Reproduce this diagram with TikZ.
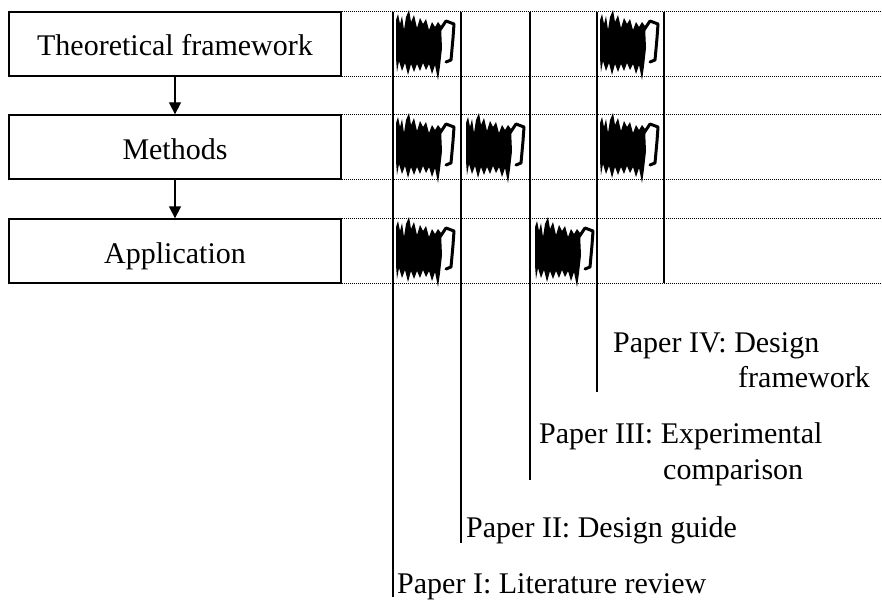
\documentclass[tikz,border=0pt]{standalone}
\usepackage{fontspec}
\setmainfont{Liberation Serif}
\usetikzlibrary{arrows.meta}
\tikzset{
  stagebox/.style={draw, line width=1.3pt, minimum width=332pt, minimum height=64pt,
    inner sep=0pt, text height=28.5pt, text depth=4.5pt,
    font=\fontsize{30}{36}\selectfont},
  dotline/.style={line width=0.9pt, dash pattern=on 1pt off 1pt},
  paperline/.style={line width=1.3pt},
  flowarrow/.style={line width=1.3pt, -{Triangle[length=12pt,width=12pt]}},
  papertext/.style={anchor=base west, inner sep=0pt, font=\fontsize{30}{36}\selectfont},
  scrib/.pic={
    \fill (3,12) -- (5,6) -- (7,16) -- (9,8) -- (11,22) -- (13,9) -- (16,2) -- (18,14)
      -- (21,7) -- (24,20) -- (27,10) -- (30,16) -- (33,11) -- (36,22) -- (39,14)
      -- (42,19) -- (45,14) -- (48,18)
      -- (49,40) -- (47,58)
      -- (45,72) -- (42,57) -- (39,66) -- (36,56) -- (33,62) -- (30,55) -- (27,63)
      -- (24,56) -- (21,64) -- (18,56) -- (15,67) -- (12,55) -- (9,63) -- (6,53)
      -- (4,64) -- (3,50) -- cycle;
    \draw[line width=3pt, line join=round, line cap=round]
      (47,22) -- (53,13) -- (61,16) -- (60,30) -- (58,52) -- (53,54);
  }
}
\begin{document}
\begin{tikzpicture}[x=1pt, y=-1pt]
  \useasboundingbox (0,0) rectangle (882,599);
  % stage boxes
  \node[stagebox] (b1) at (175,44) {Theoretical framework};
  \node[stagebox] (b2) at (175,147) {Methods};
  \node[stagebox] (b3) at (175,251) {Application};
  \draw[flowarrow] (b1) -- (b2);
  \draw[flowarrow] (b2) -- (b3);
  % right edge
  \coordinate (R) at (882,0);
  \foreach \b in {b1,b2,b3} {
    \draw[dotline] (\b.north east) -- (\b.north east -| R);
    \draw[dotline] (\b.south east) -- (\b.south east -| R);
  }
  % paper lines
  \coordinate (v1t) at (393,12); \coordinate (v1b) at (393,597);
  \coordinate (v2t) at (461,12); \coordinate (v2b) at (461,543);
  \coordinate (v3t) at (530,12); \coordinate (v3b) at (530,480);
  \coordinate (v4t) at (597,12); \coordinate (v4b) at (597,392);
  \coordinate (v5t) at (664,12); \coordinate (v5b) at (664,283);
  \draw[paperline] (v1t) -- (v1b);
  \draw[paperline] (v2t) -- (v2b);
  \draw[paperline] (v3t) -- (v3b);
  \draw[paperline] (v4t) -- (v4b);
  \draw[paperline] (v5t) -- (v5b);
  % scribbles
  \pic at (393,8) {scrib};
  \pic at (597,8) {scrib};
  \pic at (393,111) {scrib};
  \pic at (463,111) {scrib};
  \pic at (597,111) {scrib};
  \pic at (393,215) {scrib};
  \pic at (532,215) {scrib};
  % labels
  \node[papertext] (p1) at (397,593) {Paper I: Literature review};
  \node[papertext] (p2) at (466,537) {Paper II: Design guide};
  \node[papertext] (p3a) at (539,443) {Paper III: Experimental};
  \node[papertext] (p3b) at (663,479) {comparison};
  \node[papertext] (p4a) at (613,352) {Paper IV: Design};
  \node[papertext] (p4b) at (738,387) {framework};
\end{tikzpicture}
\end{document}
